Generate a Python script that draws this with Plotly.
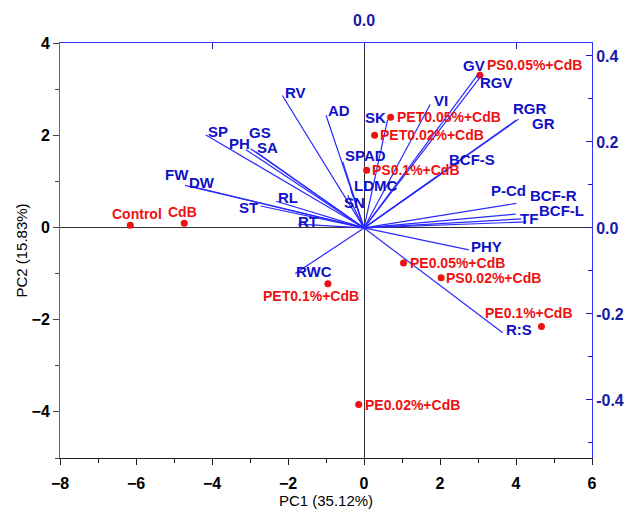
import plotly.graph_objects as go

# ---------------- data ----------------
# PCA scores (treatments)
score_names = ["Control", "CdB", "PS0.05%+CdB", "PET0.05%+CdB", "PET0.02%+CdB",
               "PS0.1%+CdB", "PE0.05%+CdB", "PS0.02%+CdB", "PE0.1%+CdB",
               "PET0.1%+CdB", "PE0.02%+CdB"]
score_pc1 = [-6.15, -4.73, 3.05, 0.70, 0.28, 0.07, 1.04, 2.03, 4.67, -0.95, -0.14]
score_pc2 = [0.05, 0.09, 3.30, 2.39, 2.00, 1.24, -0.77, -1.09, -2.15, -1.22, -3.84]

# PCA loadings (variables)
load_names = ["RV", "AD", "SP", "GS", "PH", "SA", "FW", "DW", "ST", "RL", "RT", "RWC",
              "SPAD", "LDMC", "SN", "SK", "VI", "GV", "RGV", "RGR", "GR", "BCF-S",
              "P-Cd", "BCF-R", "BCF-L", "TF", "PHY", "R:S"]
load_pc1 = [-0.215, -0.100, -0.416, -0.298, -0.311, -0.285, -0.471, -0.455, -0.272,
            -0.231, -0.173, -0.181, -0.056, -0.035, -0.043, 0.062, 0.174, 0.299,
            0.307, 0.407, 0.401, 0.224, 0.401, 0.399, 0.414, 0.427, 0.276, 0.365]
load_pc2 = [0.308, 0.262, 0.216, 0.184, 0.182, 0.177, 0.099, 0.097, 0.051, 0.062,
            0.009, -0.106, 0.154, 0.090, 0.076, 0.251, 0.287, 0.356, 0.352, 0.253,
            0.251, 0.138, 0.057, 0.032, 0.021, 0.014, -0.051, -0.244]

# ---------------- styles (label placement, px) ----------------
load_label_shift = {
    "RV": (13, 3), "AD": (13, 5), "SP": (12, 4), "GS": (9, 16), "PH": (-6, 6),
    "SA": (12, 4), "FW": (-8, 11), "DW": (11, 4), "ST": (-12, -2), "RL": (12, 4),
    "RT": (10, 3), "RWC": (19, 2), "SPAD": (23, 6), "LDMC": (25, 4), "SN": (7, -7),
    "SK": (-12, 2), "VI": (11, 4), "GV": (-4, 9), "RGV": (16, -6), "RGR": (11, 11),
    "GR": (27, -4), "BCF-S": (23, 9), "P-Cd": (-8, 13), "BCF-R": (38, 19),
    "BCF-L": (40, 8), "TF": (3, 3), "PHY": (18, 3), "R:S": (16, 3),
}
score_label_style = {
    "Control": ("center", 7, 11), "CdB": ("center", -2, 11),
    "PS0.05%+CdB": ("left", 5, 10), "PET0.05%+CdB": ("left", 4, 0),
    "PET0.02%+CdB": ("left", 3, 0), "PS0.1%+CdB": ("left", 3, 0),
    "PE0.05%+CdB": ("left", 4, 0), "PS0.02%+CdB": ("left", 3, 0),
    "PE0.1%+CdB": ("center", -12, 14), "PET0.1%+CdB": ("center", -17, -12),
    "PE0.02%+CdB": ("left", 4, 0),
}

LINE_BLUE = "#2a2aff"
LABEL_BLUE = "#1010c8"
AXIS_BLUE = "#1a1aa8"
RED = "#ee1111"
FONT = "Liberation Sans, Arial, sans-serif"

fig = go.Figure()

# loading vectors
lx, ly = [], []
for a, b in zip(load_pc1, load_pc2):
    lx += [0, a, None]
    ly += [0, b, None]
fig.add_trace(go.Scatter(x=lx, y=ly, mode="lines", xaxis="x2", yaxis="y2",
                         line=dict(color=LINE_BLUE, width=1.2), hoverinfo="skip",
                         showlegend=False))

# scores
fig.add_trace(go.Scatter(x=score_pc1, y=score_pc2, mode="markers",
                         marker=dict(color=RED, size=7), showlegend=False,
                         text=score_names, hoverinfo="text"))

ann = []
for n, a, b in zip(load_names, load_pc1, load_pc2):
    dx, dy = load_label_shift[n]
    ann.append(dict(x=a, y=b, xref="x2", yref="y2", text="<b>%s</b>" % n,
                    showarrow=False, xshift=dx, yshift=dy,
                    font=dict(family=FONT, size=15, color=LABEL_BLUE)))
for n, a, b in zip(score_names, score_pc1, score_pc2):
    anchor, dx, dy = score_label_style[n]
    ann.append(dict(x=a, y=b, xref="x", yref="y", text="<b>%s</b>" % n,
                    showarrow=False, xanchor=anchor, xshift=dx, yshift=dy,
                    font=dict(family=FONT, size=14, color=RED)))

tick_black = dict(size=16, family=FONT, color="black", weight="bold")
tick_blue = dict(size=16, family=FONT, color=AXIS_BLUE, weight="bold")

fig.update_layout(
    width=636, height=517,
    margin=dict(l=60, r=40, t=40, b=57),
    paper_bgcolor="white", plot_bgcolor="white",
    font=dict(family=FONT, color="black"),
    annotations=ann,
    xaxis=dict(range=[-8, 6], dtick=2, tick0=0, ticks="outside", ticklen=6,
               minor=dict(dtick=1, ticks="outside", ticklen=4, tickcolor="#222"),
               showline=True, linecolor="#222", linewidth=1, tickcolor="#222",
               showgrid=False, zeroline=True, zerolinecolor="#333", zerolinewidth=1,
               ticklabelstandoff=5, tickfont=tick_black,
               title=dict(text="PC1 (35.12%)", font=dict(size=15, family=FONT), standoff=2)),
    yaxis=dict(range=[-5, 4], dtick=2, tick0=0, ticks="outside", ticklen=6,
               minor=dict(dtick=1, ticks="outside", ticklen=4, tickcolor="#444"),
               showline=True, linecolor="#666", linewidth=1, tickcolor="#444",
               showgrid=False, zeroline=True, zerolinecolor="#333", zerolinewidth=1,
               tickfont=tick_black,
               title=dict(text="PC2 (15.83%)", font=dict(size=15, family=FONT), standoff=0)),
    xaxis2=dict(range=[-0.8, 0.6], overlaying="x", side="top", anchor="y",
                tickvals=[-0.4, 0.0, 0.4], ticktext=["", "0.0", ""],
                ticks="inside", ticklen=6, tickcolor=AXIS_BLUE,
                showline=True, linecolor="#3030ff", linewidth=1,
                showgrid=False, zeroline=False, ticklabelstandoff=10,
                tickfont=tick_blue),
    yaxis2=dict(range=[-0.535, 0.43], overlaying="y", side="right", anchor="x",
                tickvals=[-0.4, -0.2, 0.0, 0.2, 0.4],
                ticktext=["-0.4", "-0.2", "0.0", "0.2", "0.4"],
                ticks="inside", ticklen=6, tickcolor=AXIS_BLUE,
                minor=dict(tickvals=[-0.5, -0.3, -0.1, 0.1, 0.3], ticks="inside",
                           ticklen=4, tickcolor=AXIS_BLUE),
                showline=True, linecolor="#3030ff", linewidth=1,
                showgrid=False, zeroline=False,
                tickfont=tick_blue),
)

fig.write_html("out.html", config={"displayModeBar": False},
               post_script="document.body.style.margin='0';")
